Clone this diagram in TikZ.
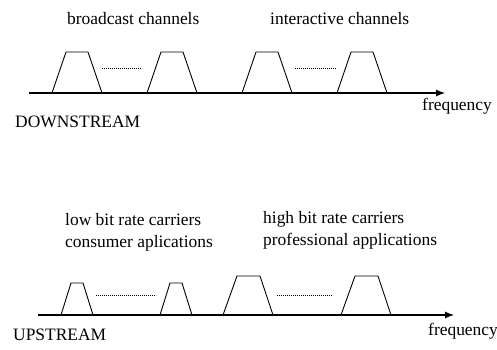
\documentclass[tikz,border=0pt]{standalone}
\usepackage{fontspec}
\setmainfont{Liberation Serif}
\usetikzlibrary{
    arrows.meta,
    positioning
}

\begin{document}
\begin{tikzpicture}[
    x=1bp,
    y=-1bp,
    >={Latex[length=9bp,width=7bp]},
    every node/.style={inner sep=0pt, font=\fontsize{17.5}{21.5}\selectfont},
    axis/.style={->, line width=1.1bp},
    band/.style={line width=0.9bp, line join=miter},
    gap/.style={line width=0.7bp, dash pattern=on 0.7bp off 1.3bp}
]
\useasboundingbox (0,0) rectangle (497,349);

% downstream spectrum
\coordinate (dsorigin) at (29,93);
\coordinate (dsend) at (445,93);
\draw[axis] (dsorigin) -- (dsend);

\foreach \x in {52,147,242,337}
    \draw[band] (\x,93) -- (\x+14,52) -- (\x+36,52) -- (\x+50,93);

\draw[gap] (102,68) -- (142,68);
\draw[gap] (295,68) -- (336,68);

\node[anchor=base west] (broadcast) at (67,24) {broadcast channels};
\node[anchor=base west] (interactive) at (270,24) {interactive channels};
\node[anchor=base west] (downstream) at (15,127) {DOWNSTREAM};
\node[anchor=base west] (dsfreq) at (422,110) {frequency};

% upstream spectrum
\coordinate (usorigin) at (38,315);
\coordinate (usend) at (454,315);
\draw[axis] (usorigin) -- (usend);

\foreach \x in {61,160}
    \draw[band] (\x,315) -- (\x+10,283) -- (\x+22,283) -- (\x+32,315);
\foreach \x in {223,341}
    \draw[band] (\x,315) -- (\x+14,276) -- (\x+37,276) -- (\x+50,315);

\draw[gap] (96,295) -- (156,295);
\draw[gap] (277,295) -- (333,295);

\node[anchor=base west, align=left] (lowrate) at (65,247)
    {low bit rate carriers\\consumer aplications};
\node[anchor=base west, align=left] (highrate) at (263,245)
    {high bit rate carriers\\professional applications};
\node[anchor=base west] (upstream) at (13,340) {UPSTREAM};
\node[anchor=base west] (usfreq) at (428,335) {frequency};

\end{tikzpicture}
\end{document}
